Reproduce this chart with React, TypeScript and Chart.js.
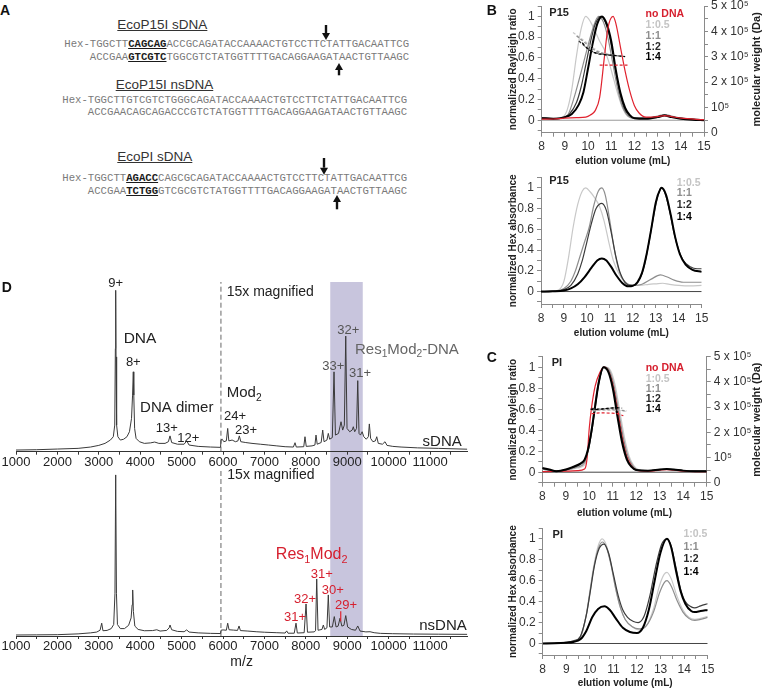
import React, { useEffect, useRef } from "react";
import { Chart, registerables } from "chart.js";

Chart.register(...registerables);
const FAM = "'Liberation Sans', Arial, Helvetica, sans-serif";
Chart.defaults.font.family = FAM;
Chart.defaults.color = "#333";

type Pt = [number, number];
type Note = { x: number; y: number; t: string; c?: string; s?: number; b?: boolean; a?: CanvasTextAlign; ax?: string };

// ---------- colours ----------
const cHalf = "#c8c8c8";
const cOne = "#8e8e8e";
const cTwo = "#3c3c3c";
const cFour = "#000000";
const cRed = "#e0222e";
const tRed = "#d6202f";
const lavender = "#c8c5dd";

// ---------- panel A: sequences ----------
const p15sTop = ["Hex-TGGCTT", "CAGCAG", "ACCGCAGATACCAAAACTGTCCTTCTATTGACAATTCG"];
const p15sBottom = ["    ACCGAA", "GTCGTC", "TGGCGTCTATGGTTTTGACAGGAAGATAACTGTTAAGC"];
const p15nsTop = ["Hex-TGGCTTGTCGTCTGGGCAGATACCAAAACTGTCCTTCTATTGACAATTCG"];
const p15nsBottom = ["    ACCGAACAGCAGACCCGTCTATGGTTTTGACAGGAAGATAACTGTTAAGC"];
const piTop = ["Hex-TGGCTT", "AGACC", "CAGCGCAGATACCAAAACTGTCCTTCTATTGACAATTCG"];
const piBottom = ["    ACCGAA", "TCTGG", "GTCGCGTCTATGGTTTTGACAGGAAGATAACTGTTAAGC"];

// ---------- panel B: P15 Rayleigh ratio ----------
const p15RayHalf: Pt[] = [[8,0.02],[8.5,0.015],[8.9,0.03],[9.1,0.1],[9.3,0.3],[9.5,0.62],[9.7,0.88],[9.9,1.0],[10.1,0.95],[10.3,0.86],[10.5,0.76],[10.7,0.68],[10.9,0.56],[11.1,0.4],[11.3,0.24],[11.5,0.11],[11.7,0.04],[12,0.02],[12.5,0.02],[13.0,0.035],[13.3,0.045],[13.6,0.035],[14,0.02],[15,0.005]];
const p15RayOne: Pt[] = [[8,0.02],[8.5,0.015],[9,0.03],[9.15,0.06],[9.4,0.22],[9.6,0.38],[9.8,0.55],[10.0,0.72],[10.2,0.88],[10.45,1.0],[10.65,0.95],[10.85,0.8],[11.05,0.57],[11.25,0.33],[11.45,0.15],[11.65,0.06],[11.9,0.02],[12.5,0.02],[13.0,0.04],[13.3,0.055],[13.6,0.04],[14,0.02],[14.5,0.01],[15,0.005]];
const p15RayTwo: Pt[] = [[8,0.02],[8.5,0.015],[9,0.03],[9.2,0.06],[9.5,0.17],[9.7,0.32],[9.9,0.53],[10.1,0.75],[10.3,0.92],[10.55,1.0],[10.75,0.94],[10.95,0.78],[11.15,0.52],[11.35,0.28],[11.55,0.12],[11.75,0.05],[12,0.02],[12.5,0.02],[13.0,0.035],[13.3,0.05],[13.6,0.035],[14,0.02],[14.5,0.01],[15,0.005]];
const p15RayFour: Pt[] = [[8,0.02],[8.5,0.015],[9,0.03],[9.3,0.06],[9.6,0.15],[9.8,0.27],[10.0,0.5],[10.2,0.74],[10.4,0.93],[10.6,1.0],[10.8,0.93],[11.0,0.76],[11.2,0.48],[11.4,0.26],[11.6,0.12],[11.8,0.05],[12.0,0.02],[12.5,0.015],[13.0,0.03],[13.3,0.045],[13.6,0.03],[14,0.015],[14.5,0.005],[15,0.0]];
const p15RayNone: Pt[] = [[8,0.01],[8.5,0.012],[9,0.02],[9.5,0.025],[9.9,0.03],[10.1,0.05],[10.3,0.09],[10.5,0.22],[10.7,0.6],[10.85,0.88],[11.08,1.0],[11.2,0.93],[11.4,0.7],[11.6,0.47],[11.8,0.28],[12.0,0.14],[12.2,0.07],[12.5,0.03],[13,0.035],[13.3,0.045],[13.6,0.035],[14,0.02],[15,0.005]];
const p15MwHalf: Pt[] = [[9.35,3.95e5],[9.7,3.72e5],[10.0,3.5e5],[10.3,3.3e5],[10.6,3.15e5],[10.9,3.08e5]];
const p15MwOne: Pt[] = [[9.5,3.82e5],[9.8,3.6e5],[10.1,3.38e5],[10.4,3.2e5],[10.8,3.1e5],[11.2,3.04e5]];
const p15MwTwo: Pt[] = [[9.6,3.62e5],[9.9,3.38e5],[10.2,3.2e5],[10.6,3.1e5],[11.0,3.06e5],[11.45,3.02e5]];
const p15MwFour: Pt[] = [[9.75,3.55e5],[10.0,3.3e5],[10.3,3.15e5],[10.7,3.08e5],[11.1,3.05e5],[11.6,3.0e5]];
const p15MwNone: Pt[] = [[10.5,2.67e5],[11.1,2.67e5],[11.7,2.67e5]];

// ---------- panel B: P15 Hex absorbance ----------
const p15HexHalf: Pt[] = [[8,0],[8.5,0.002],[8.8,0.02],[9.0,0.1],[9.2,0.33],[9.4,0.62],[9.6,0.84],[9.8,0.97],[9.95,1.0],[10.15,0.96],[10.35,0.9],[10.55,0.82],[10.75,0.68],[10.95,0.48],[11.15,0.3],[11.4,0.17],[11.7,0.08],[12.0,0.06],[12.3,0.06],[12.7,0.07],[13.0,0.075],[13.3,0.08],[13.6,0.07],[14.0,0.06],[14.5,0.055],[15,0.06]];
const p15HexOne: Pt[] = [[8,0],[8.5,0.002],[9.0,0.03],[9.3,0.1],[9.5,0.2],[9.7,0.34],[9.9,0.48],[10.1,0.62],[10.3,0.83],[10.5,0.97],[10.65,1.0],[10.8,0.93],[11.0,0.68],[11.2,0.4],[11.4,0.2],[11.6,0.11],[11.8,0.07],[12.1,0.06],[12.4,0.07],[12.8,0.12],[13.2,0.16],[13.5,0.14],[13.8,0.11],[14.2,0.09],[14.6,0.09],[15,0.09]];
const p15HexTwo: Pt[] = [[8,0],[8.5,0.002],[9.0,0.02],[9.3,0.06],[9.6,0.17],[9.8,0.3],[10.0,0.48],[10.2,0.66],[10.4,0.8],[10.65,0.85],[10.85,0.78],[11.05,0.58],[11.25,0.35],[11.45,0.18],[11.65,0.09],[11.85,0.06],[12.05,0.06],[12.3,0.12],[12.5,0.25],[12.7,0.47],[12.9,0.72],[13.1,0.93],[13.25,1.0],[13.4,0.95],[13.6,0.78],[13.8,0.56],[14.0,0.4],[14.2,0.3],[14.5,0.24],[14.8,0.22],[15,0.22]];
const p15HexFour: Pt[] = [[8,0],[8.5,0.002],[9.0,0.01],[9.3,0.03],[9.6,0.07],[9.9,0.14],[10.2,0.23],[10.45,0.3],[10.65,0.32],[10.85,0.3],[11.05,0.24],[11.3,0.15],[11.55,0.08],[11.8,0.05],[12.0,0.055],[12.2,0.09],[12.4,0.18],[12.6,0.36],[12.8,0.6],[13.0,0.86],[13.2,0.99],[13.25,1.0],[13.45,0.93],[13.65,0.74],[13.85,0.52],[14.05,0.36],[14.3,0.26],[14.6,0.21],[15,0.19]];

// ---------- panel C: PI Rayleigh ratio ----------
const piRayHalf: Pt[] = [[8,0.03],[8.5,0.012],[9,0.02],[9.5,0.04],[9.8,0.07],[10.0,0.25],[10.15,0.48],[10.3,0.72],[10.47,0.92],[10.68,1.0],[10.9,0.97],[11.1,0.83],[11.3,0.58],[11.5,0.33],[11.7,0.15],[11.9,0.06],[12.1,0.025],[12.5,0.015],[13,0.025],[13.3,0.03],[14,0.015],[15,0.01]];
const piRayOne: Pt[] = [[8,0.03],[8.5,0.012],[9,0.02],[9.5,0.05],[9.8,0.09],[10.0,0.28],[10.15,0.5],[10.3,0.74],[10.45,0.92],[10.65,1.0],[10.85,0.97],[11.05,0.83],[11.25,0.58],[11.45,0.33],[11.65,0.15],[11.85,0.06],[12.05,0.025],[12.5,0.015],[13,0.025],[13.3,0.03],[14,0.015],[15,0.01]];
const piRayTwo: Pt[] = [[8,0.035],[8.3,0.022],[8.6,0.01],[9.0,0.022],[9.3,0.045],[9.6,0.07],[9.8,0.11],[9.95,0.2],[10.1,0.38],[10.25,0.61],[10.4,0.84],[10.62,1.0],[10.82,0.96],[11.02,0.8],[11.22,0.53],[11.42,0.29],[11.62,0.12],[11.82,0.05],[12.0,0.02],[12.5,0.015],[13.0,0.025],[13.3,0.03],[13.6,0.025],[14,0.015],[15,0.01]];
const piRayFour: Pt[] = [[8,0.04],[8.3,0.025],[8.6,0.01],[9.0,0.025],[9.3,0.05],[9.6,0.08],[9.8,0.12],[9.95,0.22],[10.1,0.4],[10.25,0.63],[10.4,0.85],[10.6,1.0],[10.8,0.96],[11.0,0.8],[11.2,0.53],[11.4,0.28],[11.6,0.12],[11.8,0.05],[12.0,0.02],[12.5,0.015],[13.0,0.025],[13.3,0.03],[13.6,0.025],[14,0.015],[14.5,0.01],[15,0.01]];
const piRayNone: Pt[] = [[8,0.005],[8.5,0.008],[9,0.01],[9.5,0.015],[9.8,0.03],[9.9,0.12],[10.0,0.42],[10.1,0.62],[10.25,0.82],[10.45,0.95],[10.63,1.0],[10.8,0.97],[11.0,0.84],[11.2,0.6],[11.4,0.34],[11.6,0.15],[11.8,0.06],[12.0,0.02],[12.5,0.01],[13,0.02],[13.3,0.025],[14,0.01],[15,0.005]];
const piMwHalf: Pt[] = [[10.15,2.85e5],[10.5,2.88e5],[10.9,2.88e5],[11.3,2.86e5],[11.6,2.82e5]];
const piMwOne: Pt[] = [[10.1,2.88e5],[10.5,2.9e5],[10.9,2.9e5],[11.3,2.88e5],[11.6,2.85e5]];
const piMwTwo: Pt[] = [[10.1,2.95e5],[10.4,2.93e5],[10.8,2.95e5],[11.2,2.97e5],[11.4,2.96e5]];
const piMwFour: Pt[] = [[10.05,2.92e5],[10.3,2.9e5],[10.6,2.93e5],[10.9,2.96e5],[11.3,2.98e5]];
const piMwNone: Pt[] = [[10.1,2.74e5],[10.5,2.77e5],[10.9,2.76e5],[11.2,2.74e5],[11.45,2.66e5]];

// ---------- panel C: PI Hex absorbance ----------
const piHexHalf: Pt[] = [[8,0],[8.5,0.002],[9.0,0.01],[9.3,0.02],[9.6,0.06],[9.85,0.28],[10.0,0.5],[10.15,0.72],[10.35,0.93],[10.52,1.0],[10.7,0.94],[10.9,0.76],[11.1,0.52],[11.3,0.34],[11.5,0.23],[11.8,0.16],[12.1,0.13],[12.4,0.17],[12.7,0.33],[12.95,0.55],[13.15,0.66],[13.27,0.68],[13.45,0.62],[13.7,0.45],[13.95,0.32],[14.2,0.25],[14.45,0.23],[14.7,0.24],[15,0.26]];
const piHexOne: Pt[] = [[8,0],[8.5,0.002],[9.0,0.01],[9.3,0.02],[9.6,0.06],[9.85,0.27],[10.0,0.48],[10.15,0.7],[10.35,0.9],[10.53,0.97],[10.7,0.92],[10.9,0.75],[11.1,0.52],[11.3,0.34],[11.5,0.23],[11.8,0.16],[12.1,0.14],[12.4,0.17],[12.7,0.3],[12.95,0.48],[13.15,0.58],[13.27,0.6],[13.45,0.55],[13.7,0.41],[13.95,0.3],[14.2,0.24],[14.45,0.22],[14.7,0.23],[15,0.25]];
const piHexTwo: Pt[] = [[8,0],[8.5,0.002],[9.0,0.01],[9.3,0.025],[9.6,0.07],[9.85,0.27],[10.0,0.47],[10.2,0.75],[10.4,0.91],[10.6,0.95],[10.8,0.86],[11.0,0.66],[11.2,0.46],[11.4,0.32],[11.6,0.25],[11.85,0.21],[12.05,0.2],[12.3,0.26],[12.55,0.46],[12.8,0.74],[13.05,0.95],[13.27,1.0],[13.45,0.93],[13.65,0.73],[13.85,0.52],[14.05,0.4],[14.3,0.35],[14.45,0.34],[14.7,0.36],[15,0.38]];
const piHexFour: Pt[] = [[8,0],[8.5,0.002],[9.0,0.008],[9.3,0.015],[9.6,0.04],[9.85,0.12],[10.1,0.25],[10.35,0.33],[10.62,0.355],[10.85,0.32],[11.1,0.24],[11.4,0.15],[11.7,0.11],[12.0,0.1],[12.25,0.15],[12.5,0.32],[12.75,0.6],[13.0,0.87],[13.27,1.0],[13.45,0.92],[13.65,0.7],[13.85,0.5],[14.05,0.38],[14.3,0.31],[14.45,0.3],[14.7,0.31],[15,0.32]];

// ---------- panel D: mass spectra (m/z, relative intensity) ----------
const magnifyAt = 5950;
const shadeRange: Pt = [8590, 9375];
const sdnaSpectrum: Pt[] = [[1000,-1],[1500,-0.8],[2000,-0.4],[2500,0],[2800,0.8],[3000,1.8],[3150,3],[3280,5],[3350,7],[3385,14],[3400,60],[3408,95],[3416,55],[3430,14],[3460,7],[3520,5],[3600,5.5],[3680,7],[3740,10],[3790,18],[3815,32],[3833,46],[3845,32],[3865,12],[3900,6],[3980,4],[4100,3],[4250,3.3],[4350,3.8],[4450,3],[4600,3],[4680,4],[4720,7.5],[4760,3.5],[4900,2.5],[5060,2.5],[5123,4.5],[5180,2],[5400,1.2],[5700,0.8],[5940,0.6],[5952,5],[5980,5.5],[6020,4],[6080,4.5],[6113,12],[6140,4.5],[6220,5],[6300,4],[6360,4.5],[6394,7.5],[6430,4],[6550,3.5],[6700,3],[6900,2.5],[7100,2],[7300,1.5],[7500,1],[7700,0.8],[7739,3.4],[7770,0.8],[7950,1],[7980,7],[8010,1.2],[8150,1.5],[8220,2],[8246,8],[8275,2.5],[8370,3.5],[8408,11],[8440,4],[8510,5],[8543,9],[8575,5.5],[8640,6.5],[8681,46],[8715,8],[8790,9],[8850,16],[8890,11],[8930,14],[8964,67.5],[8995,12],[9060,10],[9120,11],[9147,13],[9180,10],[9225,12],[9254,40.7],[9285,9],[9320,8],[9360,10],[9400,7],[9460,5.5],[9510,7],[9534,14.7],[9565,6],[9620,4],[9680,4.5],[9713,7],[9750,3],[9850,2.5],[9913,4],[9960,1.8],[10100,1.2],[10300,0.8],[10700,0.3],[11200,0],[11900,-0.5]];
const nsdnaSpectrum: Pt[] = [[1000,-0.4],[1500,-0.3],[2000,-0.2],[2500,0.3],[2800,0.9],[2950,1.4],[3030,2.5],[3070,6.8],[3100,2.2],[3200,2.4],[3300,3.5],[3360,6],[3390,25],[3408,97],[3426,25],[3450,6],[3520,3.5],[3620,3.5],[3720,5.5],[3780,10],[3805,18],[3818,27],[3835,14],[3870,5],[3950,3],[4100,2.2],[4300,2.3],[4400,2.8],[4480,2],[4640,2.4],[4700,4],[4720,5.7],[4760,2.8],[4900,1.8],[5060,1.6],[5123,2.7],[5180,1.4],[5400,0.9],[5700,0.6],[5940,0.5],[5952,2.5],[6000,2.7],[6080,2.5],[6113,6.8],[6145,2.8],[6250,2.6],[6350,2.4],[6387,5.1],[6420,2.3],[6600,2],[6800,1.6],[7000,1.3],[7300,1],[7500,0.8],[7538,2.1],[7570,0.7],[7720,0.7],[7763,6.8],[7795,0.8],[7960,1],[8005,18.5],[8040,1.3],[8200,1.5],[8235,2.2],[8263,33.7],[8295,2.5],[8390,3],[8423,5.7],[8455,3],[8510,4],[8543,24],[8575,4.5],[8640,4.5],[8688,10.8],[8730,4.5],[8780,5],[8826,9.8],[8870,5],[8920,5.5],[8964,11.4],[9010,4.5],[9100,3],[9200,2.5],[9254,5.1],[9310,2],[9450,1.5],[9550,1.6],[9650,1],[9800,0.6],[10100,0.4],[10600,0.2],[11200,0.1],[11900,0]];
const res1Mod2Marker: Pt[] = [[8843, 8], [8843, 14]];

// ---------- annotations ----------
const p15RayNotes: Note[] = [
  { x: 8.33, y: 1.035, t: "P15", b: true, s: 11, a: "left" },
  { x: 12.48, y: 1.023, t: "no DNA", b: true, s: 10.5, a: "left", c: tRed },
  { x: 12.48, y: 0.917, t: "1:0.5", b: true, s: 10.5, a: "left", c: "#c4c4c4" },
  { x: 12.48, y: 0.811, t: "1:1", b: true, s: 10.5, a: "left", c: "#8e8e8e" },
  { x: 12.48, y: 0.708, t: "1:2", b: true, s: 10.5, a: "left", c: "#2a2a2a" },
  { x: 12.48, y: 0.606, t: "1:4", b: true, s: 10.5, a: "left", c: "#000" },
];
const p15HexNotes: Note[] = [
  { x: 8.36, y: 1.067, t: "P15", b: true, s: 11, a: "left" },
  { x: 13.91, y: 1.05, t: "1:0.5", b: true, s: 10.5, a: "left", c: "#c4c4c4" },
  { x: 13.91, y: 0.948, t: "1:1", b: true, s: 10.5, a: "left", c: "#8e8e8e" },
  { x: 13.91, y: 0.835, t: "1:2", b: true, s: 10.5, a: "left", c: "#2a2a2a" },
  { x: 13.91, y: 0.722, t: "1:4", b: true, s: 10.5, a: "left", c: "#000" },
];
const piRayNotes: Note[] = [
  { x: 8.4, y: 1.037, t: "PI", b: true, s: 11, a: "left" },
  { x: 12.4, y: 0.99, t: "no DNA", b: true, s: 10.5, a: "left", c: tRed },
  { x: 12.4, y: 0.89, t: "1:0.5", b: true, s: 10.5, a: "left", c: "#c4c4c4" },
  { x: 12.4, y: 0.79, t: "1:1", b: true, s: 10.5, a: "left", c: "#8e8e8e" },
  { x: 12.4, y: 0.695, t: "1:2", b: true, s: 10.5, a: "left", c: "#2a2a2a" },
  { x: 12.4, y: 0.6, t: "1:4", b: true, s: 10.5, a: "left", c: "#000" },
];
const piHexNotes: Note[] = [
  { x: 8.42, y: 1.037, t: "PI", b: true, s: 11, a: "left" },
  { x: 13.97, y: 1.047, t: "1:0.5", b: true, s: 10.5, a: "left", c: "#c4c4c4" },
  { x: 13.97, y: 0.925, t: "1:1", b: true, s: 10.5, a: "left", c: "#8e8e8e" },
  { x: 13.97, y: 0.805, t: "1:2", b: true, s: 10.5, a: "left", c: "#2a2a2a" },
  { x: 13.97, y: 0.686, t: "1:4", b: true, s: 10.5, a: "left", c: "#000" },
];
const sdnaNotes: Note[] = [
  { x: 3408, y: 99.4, t: "9+", s: 13 },
  { x: 3995, y: 66.2, t: "DNA", s: 15.5 },
  { x: 3833, y: 51.5, t: "8+", s: 13 },
  { x: 4882, y: 24.1, t: "DNA dimer", s: 15 },
  { x: 4640, y: 12.1, t: "13+", s: 13 },
  { x: 5162, y: 6.1, t: "12+", s: 13 },
  { x: 6089, y: 33.1, t: "Mod_2", s: 15, a: "left" },
  { x: 6290, y: 19, t: "24+", s: 13 },
  { x: 6556, y: 11, t: "23+", s: 13 },
  { x: 6089, y: 94.2, t: "15x magnified", s: 14, a: "left" },
  { x: 9025, y: 70.6, t: "32+", s: 13, c: "#555" },
  { x: 8664, y: 49.5, t: "33+", s: 13, c: "#555" },
  { x: 9309, y: 45.1, t: "31+", s: 13, c: "#555" },
  { x: 9188, y: 59.1, t: "Res_1Mod_2-DNA", s: 15, a: "left", c: "#666" },
  { x: 11766, y: 4, t: "sDNA", s: 15, a: "right" },
];
const nsdnaNotes: Note[] = [
  { x: 6104, y: 97, t: "15x magnified", s: 14, a: "left" },
  { x: 8142, y: 48.3, t: "Res_1Mod_2", s: 16, c: tRed },
  { x: 8384, y: 36.6, t: "31+", s: 13, c: tRed },
  { x: 7980, y: 21.5, t: "32+", s: 13, c: tRed },
  { x: 8650, y: 27, t: "30+", s: 13, c: tRed },
  { x: 8971, y: 17.5, t: "29+", s: 13, c: tRed },
  { x: 7739, y: 10.2, t: "31+", s: 13, c: tRed },
  { x: 11886, y: 5.3, t: "nsDNA", s: 15, a: "right" },
];

// ---------- helpers ----------
function drawRich(ctx: CanvasRenderingContext2D, text: string, x: number, y: number, size: number, bold: boolean, align: CanvasTextAlign, color: string) {
  const segs: { s: string; sub: boolean }[] = [];
  let buf = "";
  for (let i = 0; i < text.length; i++) {
    if (text[i] === "_" && i + 1 < text.length) {
      if (buf) { segs.push({ s: buf, sub: false }); buf = ""; }
      segs.push({ s: text[i + 1], sub: true });
      i++;
    } else buf += text[i];
  }
  if (buf) segs.push({ s: buf, sub: false });
  const fontOf = (sub: boolean) => `${bold ? "bold " : ""}${sub ? size * 0.68 : size}px ${FAM}`;
  let total = 0;
  for (const sg of segs) { ctx.font = fontOf(sg.sub); total += ctx.measureText(sg.s).width; }
  let cx = align === "left" ? x : align === "right" ? x - total : x - total / 2;
  ctx.fillStyle = color;
  ctx.textAlign = "left";
  ctx.textBaseline = "middle";
  for (const sg of segs) {
    ctx.font = fontOf(sg.sub);
    ctx.fillText(sg.s, cx, sg.sub ? y + size * 0.3 : y);
    cx += ctx.measureText(sg.s).width;
  }
}

function decor(cfg: { notes?: Note[]; rightTitle?: string; rightTitleX?: number; shade?: Pt; shadeMode?: "down" | "up" }) {
  return {
    id: "decor",
    beforeDraw(chart: any) {
      if (!cfg.shade) return;
      const xs = chart.scales.x;
      const a = chart.chartArea;
      const ctx = chart.ctx;
      const x0 = xs.getPixelForValue(cfg.shade[0]);
      const x1 = xs.getPixelForValue(cfg.shade[1]);
      const top = cfg.shadeMode === "down" ? a.top : 0;
      const bottom = cfg.shadeMode === "down" ? chart.height : a.bottom;
      ctx.save();
      ctx.fillStyle = lavender;
      ctx.fillRect(x0, top, x1 - x0, bottom - top);
      ctx.restore();
    },
    afterDraw(chart: any) {
      const ctx = chart.ctx;
      ctx.save();
      for (const n of cfg.notes || []) {
        const px = chart.scales.x.getPixelForValue(n.x);
        const py = chart.scales[n.ax || "y"].getPixelForValue(n.y);
        drawRich(ctx, n.t, px, py, n.s || 12, !!n.b, n.a || "center", n.c || "#222");
      }
      if (cfg.rightTitle) {
        const a = chart.chartArea;
        ctx.translate(chart.width - (cfg.rightTitleX || 6), (a.top + a.bottom) / 2);
        ctx.rotate(-Math.PI / 2);
        ctx.font = `bold 11px ${FAM}`;
        ctx.textAlign = "center";
        ctx.textBaseline = "middle";
        ctx.fillStyle = "#222";
        ctx.fillText(cfg.rightTitle, 0, 0);
      }
      ctx.restore();
    },
  };
}

type Curve = { data: Pt[]; color: string; width?: number; dash?: number[]; axis?: string; smooth?: boolean };
function lineDs(c: Curve) {
  return {
    data: c.data.map(([x, y]) => ({ x, y })),
    borderColor: c.color,
    borderWidth: c.width ?? 1.2,
    borderDash: c.dash ?? [],
    pointRadius: 0,
    fill: false,
    yAxisID: c.axis ?? "y",
    cubicInterpolationMode: c.smooth === false ? "default" : "monotone",
    tension: 0,
  };
}

const axisGray = "#8a8a8a";
const ratioLabel = (v: number) => {
  const k = Math.round(v * 10);
  if (k < 0 || k % 2) return "";
  return k === 0 ? "0" : k === 10 ? "1" : (k / 10).toFixed(1);
};
const mwLabel = (v: number) => {
  const k = Math.round(v / 5e4);
  if (k % 2) return "";
  const n = k / 2;
  return n === 0 ? "0" : n === 1 ? "10⁵" : `${n} x 10⁵`;
};

function elutionConfig(o: {
  w: number; h: number; area: [number, number, number, number];
  yMin: number; yMax: number; yTitle: string; right: boolean; xTitlePad: number;
  curves: Curve[]; notes: Note[];
}) {
  const [L, T, R, B] = o.area;
  const grid = { drawOnChartArea: false, tickLength: 4, color: axisGray, lineWidth: 1 };
  const border = { display: true, color: axisGray, width: 1 };
  const scales: any = {
    x: {
      type: "linear", min: 8, max: 15,
      afterFit: (s: any) => { s.height = o.h - B; s.paddingLeft = 0; s.paddingRight = 0; },
      ticks: { stepSize: 0.5, autoSkip: false, maxRotation: 0, padding: 3, color: "#333", font: { size: 12 }, includeBounds: false,
        callback: (v: number) => (Number.isInteger(v) ? String(v) : "") },
      grid, border,
      title: { display: true, text: "elution volume (mL)", color: "#222", font: { size: 10, weight: "bold" }, padding: { top: 0, bottom: o.xTitlePad } },
    },
    y: {
      type: "linear", position: "left", min: o.yMin, max: o.yMax,
      afterFit: (s: any) => { s.width = L; s.paddingTop = 0; s.paddingBottom = 0; },
      ticks: { stepSize: 0.1, autoSkip: false, padding: 3, color: "#333", font: { size: 12 }, includeBounds: false, callback: ratioLabel },
      grid, border,
      title: { display: true, text: o.yTitle, color: "#222", font: { size: 10, weight: "bold" }, padding: { top: 27.3, bottom: 0 } },
    },
  };
  if (o.right) {
    scales.y1 = {
      type: "linear", position: "right", min: 0, max: 5e5,
      afterFit: (s: any) => { s.width = o.w - R; s.paddingTop = 0; s.paddingBottom = 0; },
      ticks: { stepSize: 5e4, autoSkip: false, padding: 3, color: "#333", font: { size: 12 }, includeBounds: false, callback: mwLabel },
      grid, border,
    };
  }
  return {
    type: "line",
    data: { datasets: o.curves.map(lineDs).reverse() },
    options: {
      responsive: false, animation: false, events: [],
      layout: { padding: { left: 0, top: T, right: o.right ? 0 : o.w - R, bottom: 0 } },
      plugins: { legend: { display: false }, tooltip: { enabled: false } },
      scales,
    },
    plugins: [decor({ notes: o.notes, rightTitle: o.right ? "molecular weight (Da)" : undefined, rightTitleX: 6.3 })],
  };
}

function spectrumConfig(o: {
  w: number; h: number; padTop: number; xHeight: number; yMin: number; yMax: number;
  trace: Pt[]; extra: Curve[]; notes: Note[]; shadeMode: "down" | "up"; title?: string; titlePad?: number;
}) {
  const dashLine: Pt[] = [[magnifyAt, o.yMin], [magnifyAt, o.yMax]];
  const curves: Curve[] = [
    { data: dashLine, color: "#666", width: 1, dash: [5, 3], smooth: false },
    { data: o.trace, color: "#3a3a3a", width: 1, smooth: false },
    ...o.extra,
  ];
  return {
    type: "line",
    data: { datasets: curves.map(lineDs).reverse() },
    options: {
      responsive: false, animation: false, events: [],
      layout: { padding: { left: 16, right: 12.7, top: o.padTop, bottom: 0 } },
      plugins: { legend: { display: false }, tooltip: { enabled: false } },
      scales: {
        x: {
          type: "linear", min: 1000, max: 11900,
          afterFit: (s: any) => { s.height = o.xHeight; s.paddingLeft = 0; s.paddingRight = 0; },
          ticks: { stepSize: 100, autoSkip: false, maxRotation: 0, padding: 1, color: "#222", includeBounds: false,
            font: { size: 13, lineHeight: 1 }, callback: (v: number) => (Math.round(v) % 1000 === 0 ? String(Math.round(v)) : "") },
          grid: {
            drawOnChartArea: false, tickLength: 3,
            color: (c: any) => (c.tick && Math.round(c.tick.value) % 500 === 0 ? "#333" : "rgba(0,0,0,0)"),
          },
          border: { display: true, color: "#333", width: 1 },
          title: o.title
            ? { display: true, text: o.title, color: "#222", font: { size: 14 }, padding: { top: 0, bottom: o.titlePad || 0 } }
            : { display: false },
        },
        y: {
          display: false, min: o.yMin, max: o.yMax,
          afterFit: (s: any) => { s.paddingTop = 0; s.paddingBottom = 0; },
        },
      },
    },
    plugins: [decor({ notes: o.notes, shade: shadeRange, shadeMode: o.shadeMode })],
  };
}

function ChartCanvas({ x, y, w, h, make }: { x: number; y: number; w: number; h: number; make: () => any }) {
  const ref = useRef<HTMLCanvasElement | null>(null);
  useEffect(() => {
    if (!ref.current) return;
    const chart = new Chart(ref.current, make());
    return () => chart.destroy();
  }, []);
  return <canvas ref={ref} width={w} height={h} style={{ position: "absolute", left: x, top: y, width: w, height: h }} />;
}

const seqFont = "'Liberation Mono', 'Courier New', monospace";
function SeqLine({ x, y, parts }: { x: number; y: number; parts: string[] }) {
  return (
    <div style={{ position: "absolute", left: x, top: y - 6, height: 12, lineHeight: "12px", fontFamily: seqFont, fontSize: 10.65, whiteSpace: "pre", color: "#7a7a7a" }}>
      {parts.map((p, i) =>
        i % 2 === 1 ? (
          <span key={i} style={{ fontWeight: "bold", color: "#1a1a1a", textDecoration: "underline" }}>{p}</span>
        ) : (
          <span key={i}>{p}</span>
        )
      )}
    </div>
  );
}
function SeqTitle({ x, y, text }: { x: number; y: number; text: string }) {
  return (
    <div style={{ position: "absolute", left: x, top: y - 8, lineHeight: "16px", fontFamily: FAM, fontSize: 13.5, color: "#333", textDecoration: "underline", whiteSpace: "nowrap" }}>
      {text}
    </div>
  );
}
function Arrow({ x, tail, head }: { x: number; tail: number; head: number }) {
  const top = Math.min(tail, head) - 1;
  const h = Math.abs(head - tail) + 2;
  const down = head > tail;
  const hy = head - top;
  const ty = tail - top;
  const base = down ? hy - 7 : hy + 7;
  return (
    <svg style={{ position: "absolute", left: x - 6, top }} width={12} height={h}>
      <line x1={6} x2={6} y1={ty} y2={base} stroke="#111" strokeWidth={2.4} />
      <polygon points={`${2},${base} ${10},${base} 6,${hy}`} fill="#111" />
    </svg>
  );
}
function Letter({ x, y, t }: { x: number; y: number; t: string }) {
  return <div style={{ position: "absolute", left: x - 5, top: y - 8, lineHeight: "16px", fontFamily: FAM, fontWeight: "bold", fontSize: 14, color: "#111" }}>{t}</div>;
}

export default function App() {
  return (
    <div style={{ position: "absolute", left: 0, top: 0, width: 763, height: 691, background: "#fff", overflow: "hidden" }}>
      {/* Panel A */}
      <SeqTitle x={117.3} y={25} text="EcoP15I sDNA" />
      <SeqLine x={64.3} y={44.3} parts={p15sTop} />
      <SeqLine x={64.3} y={56.7} parts={p15sBottom} />
      <Arrow x={326.3} tail={25} head={40} />
      <Arrow x={339} tail={75} head={62.7} />
      <SeqTitle x={115.7} y={85} text="EcoP15I nsDNA" />
      <SeqLine x={62.3} y={100} parts={p15nsTop} />
      <SeqLine x={62.3} y={111.7} parts={p15nsBottom} />
      <SeqTitle x={117.3} y={156.7} text="EcoPI sDNA" />
      <SeqLine x={62.3} y={178.3} parts={piTop} />
      <SeqLine x={62.3} y={190.7} parts={piBottom} />
      <Arrow x={324.3} tail={158.3} head={175} />
      <Arrow x={336.5} tail={209.3} head={195} />

      {/* Panel B */}
      <ChartCanvas x={480} y={0} w={283} h={172} make={() => elutionConfig({
        w: 283, h: 172, area: [61.7, 6, 224, 132.7], yMin: -0.12, yMax: 1.1, right: true, xTitlePad: 5,
        yTitle: "normalized Rayleigh ratio",
        curves: [
          { data: [[8, 0], [15, 0]], color: "#9a9a9a", width: 1, smooth: false },
          { data: p15RayHalf, color: cHalf },
          { data: p15RayOne, color: cOne },
          { data: p15RayTwo, color: cTwo },
          { data: p15RayFour, color: cFour, width: 2 },
          { data: p15RayNone, color: cRed },
          { data: p15MwHalf, color: cHalf, dash: [3, 2], axis: "y1", width: 1.2 },
          { data: p15MwOne, color: cOne, dash: [3, 2], axis: "y1", width: 1.2 },
          { data: p15MwTwo, color: cTwo, dash: [3, 2], axis: "y1", width: 1.2 },
          { data: p15MwFour, color: cFour, dash: [3, 2], axis: "y1", width: 1.2 },
          { data: p15MwNone, color: cRed, dash: [3, 2], axis: "y1", width: 1.2 },
        ],
        notes: p15RayNotes,
      })} />
      <ChartCanvas x={480} y={172} w={283} h={168} make={() => elutionConfig({
        w: 283, h: 168, area: [61, 5.5, 221.7, 132], yMin: -0.12, yMax: 1.1, right: false, xTitlePad: 1,
        yTitle: "normalized Hex absorbance",
        curves: [
          { data: [[8, 0], [15, 0]], color: "#444", width: 1, smooth: false },
          { data: p15HexHalf, color: cHalf },
          { data: p15HexOne, color: cOne },
          { data: p15HexTwo, color: cTwo },
          { data: p15HexFour, color: cFour, width: 2 },
        ],
        notes: p15HexNotes,
      })} />

      {/* Panel C */}
      <ChartCanvas x={480} y={347} w={283} h={173} make={() => elutionConfig({
        w: 283, h: 173, area: [62.3, 9.7, 226.7, 135.7], yMin: -0.1, yMax: 1.1, right: true, xTitlePad: 1,
        yTitle: "normalized Rayleigh ratio",
        curves: [
          { data: [[8, 0], [15, 0]], color: "#444", width: 1, smooth: false },
          { data: piRayHalf, color: cHalf },
          { data: piRayOne, color: cOne },
          { data: piRayNone, color: cRed },
          { data: piRayTwo, color: cTwo },
          { data: piRayFour, color: cFour, width: 2 },
          { data: piMwHalf, color: cHalf, dash: [3, 2], axis: "y1", width: 1.2 },
          { data: piMwOne, color: cOne, dash: [3, 2], axis: "y1", width: 1.2 },
          { data: piMwNone, color: cRed, dash: [3, 2], axis: "y1", width: 1.2 },
          { data: piMwTwo, color: cTwo, dash: [3, 2], axis: "y1", width: 1.2 },
          { data: piMwFour, color: cFour, dash: [3, 2], axis: "y1", width: 1.2 },
        ],
        notes: piRayNotes,
      })} />
      <ChartCanvas x={480} y={520} w={283} h={171} make={() => elutionConfig({
        w: 283, h: 171, area: [62.7, 8.4, 227.7, 135], yMin: -0.11, yMax: 1.1, right: false, xTitlePad: 1.3,
        yTitle: "normalized Hex absorbance",
        curves: [
          { data: [[8, 0], [15, 0]], color: "#444", width: 1, smooth: false },
          { data: piHexHalf, color: cHalf },
          { data: piHexOne, color: cOne },
          { data: piHexTwo, color: cTwo },
          { data: piHexFour, color: cFour, width: 2 },
        ],
        notes: piHexNotes,
      })} />

      {/* Panel D */}
      <ChartCanvas x={0} y={272} w={480} h={196} make={() => spectrumConfig({
        w: 480, h: 196, padTop: 10, xHeight: 16.3, yMin: -2, yMax: 100,
        trace: sdnaSpectrum, extra: [], notes: sdnaNotes, shadeMode: "down",
      })} />
      <ChartCanvas x={0} y={468} w={480} h={223} make={() => spectrumConfig({
        w: 480, h: 223, padTop: 2, xHeight: 55, yMin: -1, yMax: 100,
        trace: nsdnaSpectrum, extra: [{ data: res1Mod2Marker, color: cRed, width: 1.2, smooth: false }],
        notes: nsdnaNotes, shadeMode: "up", title: "m/z", titlePad: 20.9,
      })} />

      <Letter x={5} y={10} t="A" />
      <Letter x={491.7} y={10} t="B" />
      <Letter x={491.7} y={356.7} t="C" />
      <Letter x={6.7} y={286.7} t="D" />
    </div>
  );
}
